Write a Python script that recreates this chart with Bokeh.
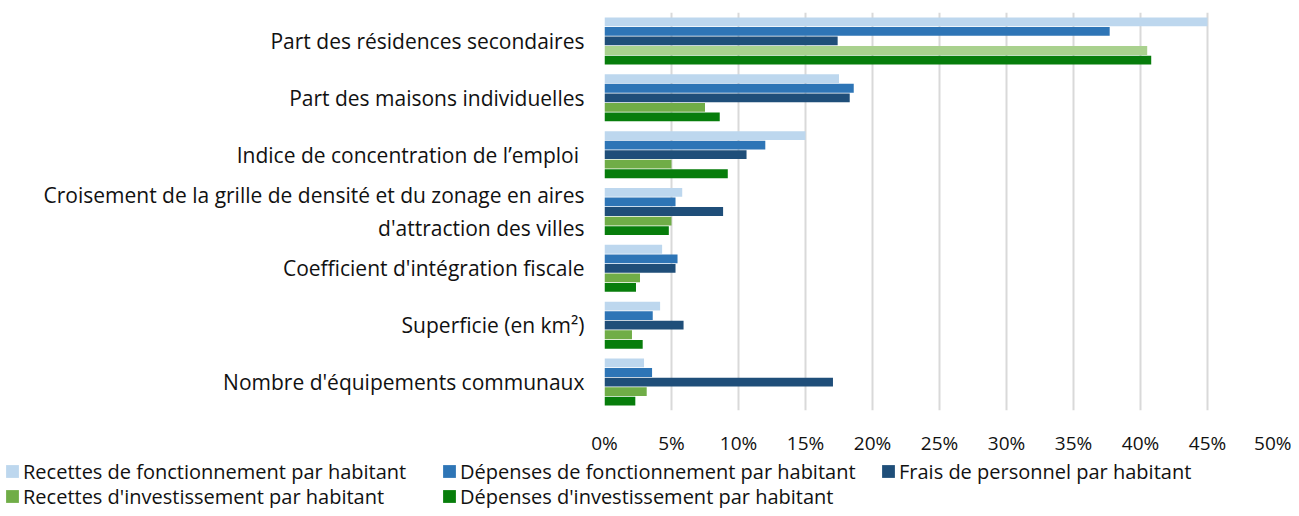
from bokeh.plotting import figure
from bokeh.layouts import column
from bokeh.models import (ColumnDataSource, FactorRange, Range1d, Legend, LegendItem,
                          NumeralTickFormatter, FixedTicker)
from bokeh.transform import dodge
from bokeh.embed import file_html
from bokeh.resources import INLINE

categories = [
    "Part des résidences secondaires",
    "Part des maisons individuelles",
    "Indice de concentration de l’emploi ",
    "Croisement de la grille de densité et du zonage en aires\nd'attraction des villes",
    "Coefficient d'intégration fiscale",
    "Superficie (en km²)",
    "Nombre d'équipements communaux",
]
series_names = [
    "Recettes de fonctionnement par habitant",
    "Dépenses de fonctionnement par habitant",
    "Frais de personnel par habitant",
    "Recettes d'investissement par habitant",
    "Dépenses d'investissement par habitant",
]
recettes_fonct = [45.0, 17.5, 15.0, 5.8, 4.3, 4.15, 2.95]
depenses_fonct = [37.7, 18.6, 12.0, 5.3, 5.45, 3.6, 3.55]
frais_personnel = [17.4, 18.3, 10.6, 8.85, 5.3, 5.9, 17.05]
recettes_invest = [40.5, 7.5, 5.0, 5.0, 2.65, 2.05, 3.15]
depenses_invest = [40.8, 8.6, 9.2, 4.8, 2.35, 2.85, 2.3]
x_ticks = [0, 0.05, 0.10, 0.15, 0.20, 0.25, 0.30, 0.35, 0.40, 0.45, 0.50]

series_colors = ["#bdd7ee", "#2e75b6", "#1f4e79", "#70ad47", "#077d0b"]
recettes_invest_colors = ["#a9d18e"] + ["#70ad47"] * 6

FONT = "Open Sans"
TXT = "#111111"
W = 1291

src = ColumnDataSource(dict(
    cat=categories,
    s0=[v / 100 for v in recettes_fonct],
    s1=[v / 100 for v in depenses_fonct],
    s2=[v / 100 for v in frais_personnel],
    s3=[v / 100 for v in recettes_invest],
    s4=[v / 100 for v in depenses_invest],
    c3=recettes_invest_colors,
))

p = figure(y_range=FactorRange(*reversed(categories)), x_range=Range1d(0, 0.5),
           width=W, height=458, output_backend="svg", toolbar_location=None,
           min_border_left=604, min_border_right=17, min_border_top=12, min_border_bottom=46,
           frame_align=False)
p.outline_line_color = None

for i in range(5):
    off = 0.336 - 0.168 * i
    color = "c3" if i == 3 else series_colors[i]
    p.hbar(y=dodge("cat", off, range=p.y_range), right="s%d" % i, left=0,
           height=0.155, source=src, fill_color=color, line_color=None)

p.xgrid.grid_line_color = "#d9d9d9"
p.xgrid.grid_line_width = 2
p.ygrid.grid_line_color = None

p.xaxis.ticker = FixedTicker(ticks=x_ticks)
p.xaxis.formatter = NumeralTickFormatter(format="0%")
p.xaxis.axis_line_color = None
p.xaxis.major_tick_line_color = None
p.xaxis.minor_tick_line_color = None
p.xaxis.major_label_standoff = 13
p.xaxis.major_label_text_font = FONT
p.xaxis.major_label_text_font_size = "19px"
p.xaxis.major_label_text_color = TXT

p.yaxis.axis_line_color = None
p.yaxis.major_tick_line_color = None
p.yaxis.minor_tick_line_color = None
p.yaxis.major_label_standoff = 14
p.yaxis.major_label_text_font = FONT
p.yaxis.major_label_text_font_size = "21px"
p.yaxis.major_label_text_color = TXT

# legend strip (its own full-width frame)
LH = 50
lg = figure(width=W, height=LH, x_range=Range1d(0, W), y_range=Range1d(0, LH),
            output_backend="svg", toolbar_location=None,
            min_border_left=0, min_border_right=0, min_border_top=0, min_border_bottom=0,
            frame_align=False)
lg.axis.visible = False
lg.grid.visible = False
lg.outline_line_color = None

legend_pos = [(4, 23.5), (441, 23.5), (880, 23.5), (4, -1.5), (441, -1.5)]
for i in range(5):
    # off-range placeholder renderer that only supplies the legend swatch style
    r = lg.hbar(y=[-1000], right=[1], left=0, height=1,
                fill_color=series_colors[i], line_color=None)
    item = LegendItem(label=series_names[i], renderers=[r])
    leg = Legend(items=[item], location=legend_pos[i], orientation="horizontal",
                 glyph_width=16, glyph_height=16, label_standoff=3, padding=0, margin=0,
                 spacing=0, border_line_color=None, background_fill_alpha=0,
                 label_text_font=FONT, label_text_font_size="20px", label_text_color=TXT,
                 label_height=16)
    lg.add_layout(leg, "center")

layout = column(p, lg, spacing=0)
open("out.html", "w").write(file_html(layout, INLINE))
